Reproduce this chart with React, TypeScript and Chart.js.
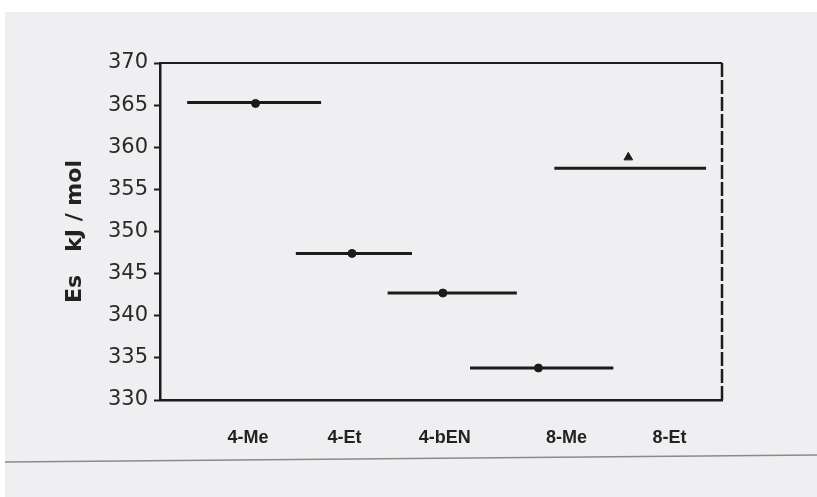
import React, { useEffect, useRef } from "react";
import { Chart, registerables } from "chart.js";

Chart.register(...registerables);

const categories = ["4-Me", "4-Et", "4-bEN", "8-Me", "8-Et"];
const labelPos = [0.94, 1.97, 3.04, 4.34, 5.44];
const markerX = [1.02, 2.05, 3.02, 4.04, 5.0];
const markerY = [365.2, 347.4, 342.7, 333.8, 358.8];
const segStart = [0.29, 1.45, 2.43, 3.31, 4.21];
const segEnd = [1.72, 2.69, 3.81, 4.84, 5.83];
const segY = [365.3, 347.4, 342.7, 333.8, 357.5];
const yTicks = [330, 335, 340, 345, 350, 355, 360, 365, 370];

const INK = "#1c1c1c";

export default function App() {
  const ref = useRef<HTMLCanvasElement | null>(null);

  useEffect(() => {
    if (!ref.current) return;
    const segDatasets = categories.map((c, i) => ({
      type: "line" as const,
      label: c + " range",
      data: [
        { x: segStart[i], y: segY[i] },
        { x: segEnd[i], y: segY[i] },
      ],
      borderColor: INK,
      borderWidth: 3,
      pointRadius: 0,
      showLine: true,
    }));
    const markerDataset = {
      type: "scatter" as const,
      label: "Es",
      data: categories.map((_, i) => ({ x: markerX[i], y: markerY[i] })),
      backgroundColor: INK,
      borderColor: INK,
      pointStyle: categories.map((_, i) => (i === 4 ? "triangle" : "circle")),
      pointRadius: categories.map((_, i) => (i === 4 ? 5 : 4)),
      showLine: false,
    };

    const frame = {
      id: "frame",
      beforeDraw(chart: any) {
        const { ctx, width, height } = chart;
        ctx.save();
        ctx.fillStyle = "#ffffff";
        ctx.fillRect(0, 0, width, height);
        ctx.fillStyle = "#efeff1";
        ctx.fillRect(5, 12, width - 5, height - 12);
        ctx.strokeStyle = "#8a8a8a";
        ctx.lineWidth = 1.5;
        ctx.beginPath();
        ctx.moveTo(5, 462);
        ctx.lineTo(width, 455);
        ctx.stroke();
        ctx.restore();
      },
      afterDraw(chart: any) {
        const { ctx, chartArea } = chart;
        const { left, right, top, bottom } = chartArea;
        ctx.save();
        ctx.strokeStyle = INK;
        ctx.lineWidth = 2;
        ctx.beginPath();
        ctx.moveTo(left, top);
        ctx.lineTo(right, top);
        ctx.stroke();
        ctx.lineWidth = 2.5;
        ctx.setLineDash([14, 3]);
        ctx.beginPath();
        ctx.moveTo(right, top);
        ctx.lineTo(right, bottom);
        ctx.stroke();
        ctx.restore();
      },
    };

    const chart = new Chart(ref.current, {
      type: "scatter",
      data: { datasets: [...segDatasets, markerDataset] as any },
      options: {
        animation: false,
        responsive: false,
        layout: { padding: { left: 0, top: 63, right: 95, bottom: 0 } },
        plugins: { legend: { display: false }, tooltip: { enabled: false } },
        scales: {
          x: {
            type: "linear",
            min: 0,
            max: 6,
            afterBuildTicks(scale: any) {
              scale.ticks = labelPos.map((v) => ({ value: v }));
            },
            afterFit(scale: any) {
              scale.height = 97;
            },
            grid: { display: false },
            border: { display: true, color: INK, width: 2.5 },
            ticks: {
              autoSkip: false,
              maxRotation: 0,
              padding: 19,
              color: "#222",
              font: { family: "'Liberation Sans', Arial, sans-serif", size: 18, weight: "bold" },
              callback: (_v: any, i: number) => categories[i],
            },
          },
          y: {
            type: "linear",
            min: 330,
            max: 370,
            afterBuildTicks(scale: any) {
              scale.ticks = yTicks.map((v) => ({ value: v }));
            },
            afterFit(scale: any) {
              scale.width = 160;
            },
            grid: {
              drawOnChartArea: false,
              drawTicks: true,
              tickLength: 6,
              tickColor: INK,
              tickWidth: 2,
            },
            border: { display: true, color: INK, width: 2.5 },
            ticks: {
              padding: 6,
              color: "#2a2a2a",
              font: { family: "'DejaVu Sans', sans-serif", size: 21 },
            },
            title: {
              display: true,
              text: "Es   kJ / mol",
              color: "#222",
              padding: { top: 62, bottom: 0 },
              font: { family: "'DejaVu Sans', sans-serif", size: 22, weight: "bold" },
            },
          },
        },
      },
      plugins: [frame],
    });
    return () => chart.destroy();
  }, []);

  return (
    <div style={{ position: "fixed", left: 0, top: 0, width: 817, height: 497 }}>
      <canvas ref={ref} width={817} height={497} style={{ display: "block" }} />
    </div>
  );
}
